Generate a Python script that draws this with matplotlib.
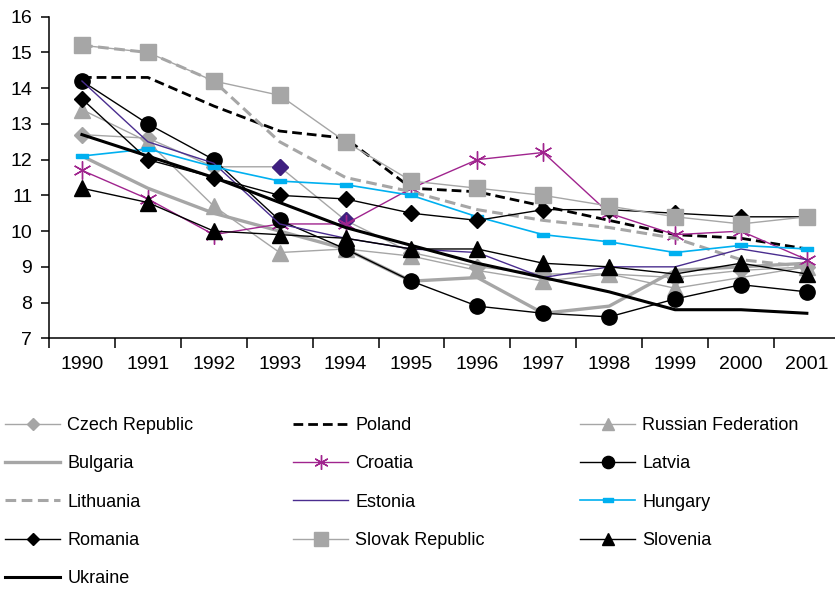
import numpy as np
import matplotlib
matplotlib.use('Agg')
import matplotlib.pyplot as plt

plt.rcParams['font.family'] = ['Liberation Sans', 'DejaVu Sans']

years = list(range(1990, 2002))

czech = [12.7, 12.6, 11.8, 11.8, 10.3, 9.4, 9.0, 8.8, 8.8, 8.7, 8.9, 9.0]
poland = [14.3, 14.3, 13.5, 12.8, 12.6, 11.2, 11.1, 10.7, 10.3, 9.9, 9.8, 9.5]
russia = [13.4, 12.5, 10.7, 9.4, 9.5, 9.3, 8.9, 8.6, 8.8, 8.4, 8.7, 9.0]
bulgaria = [12.1, 11.2, 10.5, 10.0, 9.5, 8.6, 8.7, 7.7, 7.9, 8.9, 9.0, 9.1]
croatia = [11.7, 10.9, 9.9, 10.2, 10.2, 11.2, 12.0, 12.2, 10.5, 9.9, 10.0, 9.2]
latvia = [14.2, 13.0, 12.0, 10.3, 9.5, 8.6, 7.9, 7.7, 7.6, 8.1, 8.5, 8.3]
lithuania = [15.2, 15.0, 14.2, 12.5, 11.5, 11.1, 10.6, 10.3, 10.1, 9.8, 9.2, 9.0]
estonia = [14.2, 12.5, 11.9, 10.2, 9.8, 9.5, 9.4, 8.7, 9.0, 9.0, 9.5, 9.2]
hungary = [12.1, 12.3, 11.8, 11.4, 11.3, 11.0, 10.4, 9.9, 9.7, 9.4, 9.6, 9.5]
romania = [13.7, 12.0, 11.5, 11.0, 10.9, 10.5, 10.3, 10.6, 10.6, 10.5, 10.4, 10.4]
slovakia = [15.2, 15.0, 14.2, 13.8, 12.5, 11.4, 11.2, 11.0, 10.7, 10.4, 10.2, 10.4]
slovenia = [11.2, 10.8, 10.0, 9.9, 9.8, 9.5, 9.5, 9.1, 9.0, 8.8, 9.1, 8.8]
ukraine = [12.7, 12.1, 11.5, 10.8, 10.1, 9.6, 9.1, 8.7, 8.3, 7.8, 7.8, 7.7]

# czech points that came out in a different colour in the original
czech_odd = [3, 4]

grey = '#a6a6a6'
magenta = '#a0248e'
purple = '#4a2d8f'
blue = '#00b0f0'
rect = [(-2.2, -0.8), (2.2, -0.8), (2.2, 0.8), (-2.2, 0.8), (-2.2, -0.8)]

fig = plt.figure(figsize=(8.35, 5.92), dpi=100)
ax = fig.add_axes([49/835, 1-338.3/592, 1-49/835, (338.3-16.7)/592])

h = {}
h['Czech Republic'], = ax.plot(years, czech, color=grey, lw=1.0, marker='D', ms=8, mfc=grey, mec=grey)
ax.plot([years[i] for i in czech_odd], [czech[i] for i in czech_odd], ls='none',
        marker='D', ms=8, mfc='#3f2080', mec='#3f2080')
h['Poland'], = ax.plot(years, poland, color='black', lw=2.0, dashes=(3.5, 1.8))
h['Russian Federation'], = ax.plot(years, russia, color=grey, lw=1.0, marker='^', ms=11, mfc=grey, mec=grey)
h['Bulgaria'], = ax.plot(years, bulgaria, color=grey, lw=2.4)
h['Croatia'], = ax.plot(years, croatia, color=magenta, lw=1.0, marker=(6, 2, 0), ms=13, mec=magenta, mew=1.0)
h['Latvia'], = ax.plot(years, latvia, color='black', lw=1.0, marker='o', ms=11)
h['Lithuania'], = ax.plot(years, lithuania, color=grey, lw=2.2, dashes=(3.5, 1.8))
h['Estonia'], = ax.plot(years, estonia, color=purple, lw=1.0)
h['Hungary'], = ax.plot(years, hungary, color=blue, lw=1.2, marker=rect, ms=9, mfc=blue, mec=blue)
h['Romania'], = ax.plot(years, romania, color='black', lw=1.0, marker='D', ms=8)
h['Slovak Republic'], = ax.plot(years, slovakia, color=grey, lw=1.0, marker='s', ms=12, mfc=grey, mec=grey)
h['Slovenia'], = ax.plot(years, slovenia, color='black', lw=1.0, marker='^', ms=11)
h['Ukraine'], = ax.plot(years, ukraine, color='black', lw=2.2)

ax.set_xlim(1989.5, 1989.5 + 786/65.9)
ax.set_ylim(7, 16)
ax.set_yticks(range(7, 17))
ax.set_xticks(years)
ax.set_xticks(np.arange(1989.5, 2001, 1.0), minor=True)
ax.tick_params(axis='x', which='major', length=0, pad=13, labelsize=14)
ax.tick_params(axis='x', which='minor', length=7, width=1.1, direction='out')
ax.tick_params(axis='y', length=6, width=1.1, direction='out', pad=6, labelsize=14)
for s in ['top', 'right']:
    ax.spines[s].set_visible(False)
for s in ['left', 'bottom']:
    ax.spines[s].set_linewidth(1.1)

cols = [['Czech Republic', 'Bulgaria', 'Lithuania', 'Romania', 'Ukraine'],
        ['Poland', 'Croatia', 'Estonia', 'Slovak Republic'],
        ['Russian Federation', 'Latvia', 'Hungary', 'Slovenia']]
col_x = [5, 293, 580]
for names, x0 in zip(cols, col_x):
    fig.legend([h[n] for n in names], names, loc='upper left',
               bbox_to_anchor=(x0/835, 1-417/592), frameon=False,
               borderpad=0, borderaxespad=0, fontsize=13, handlelength=3.05,
               handletextpad=0.4, labelspacing=1.18, markerscale=0.8)

fig.savefig('out.png', dpi=100)
